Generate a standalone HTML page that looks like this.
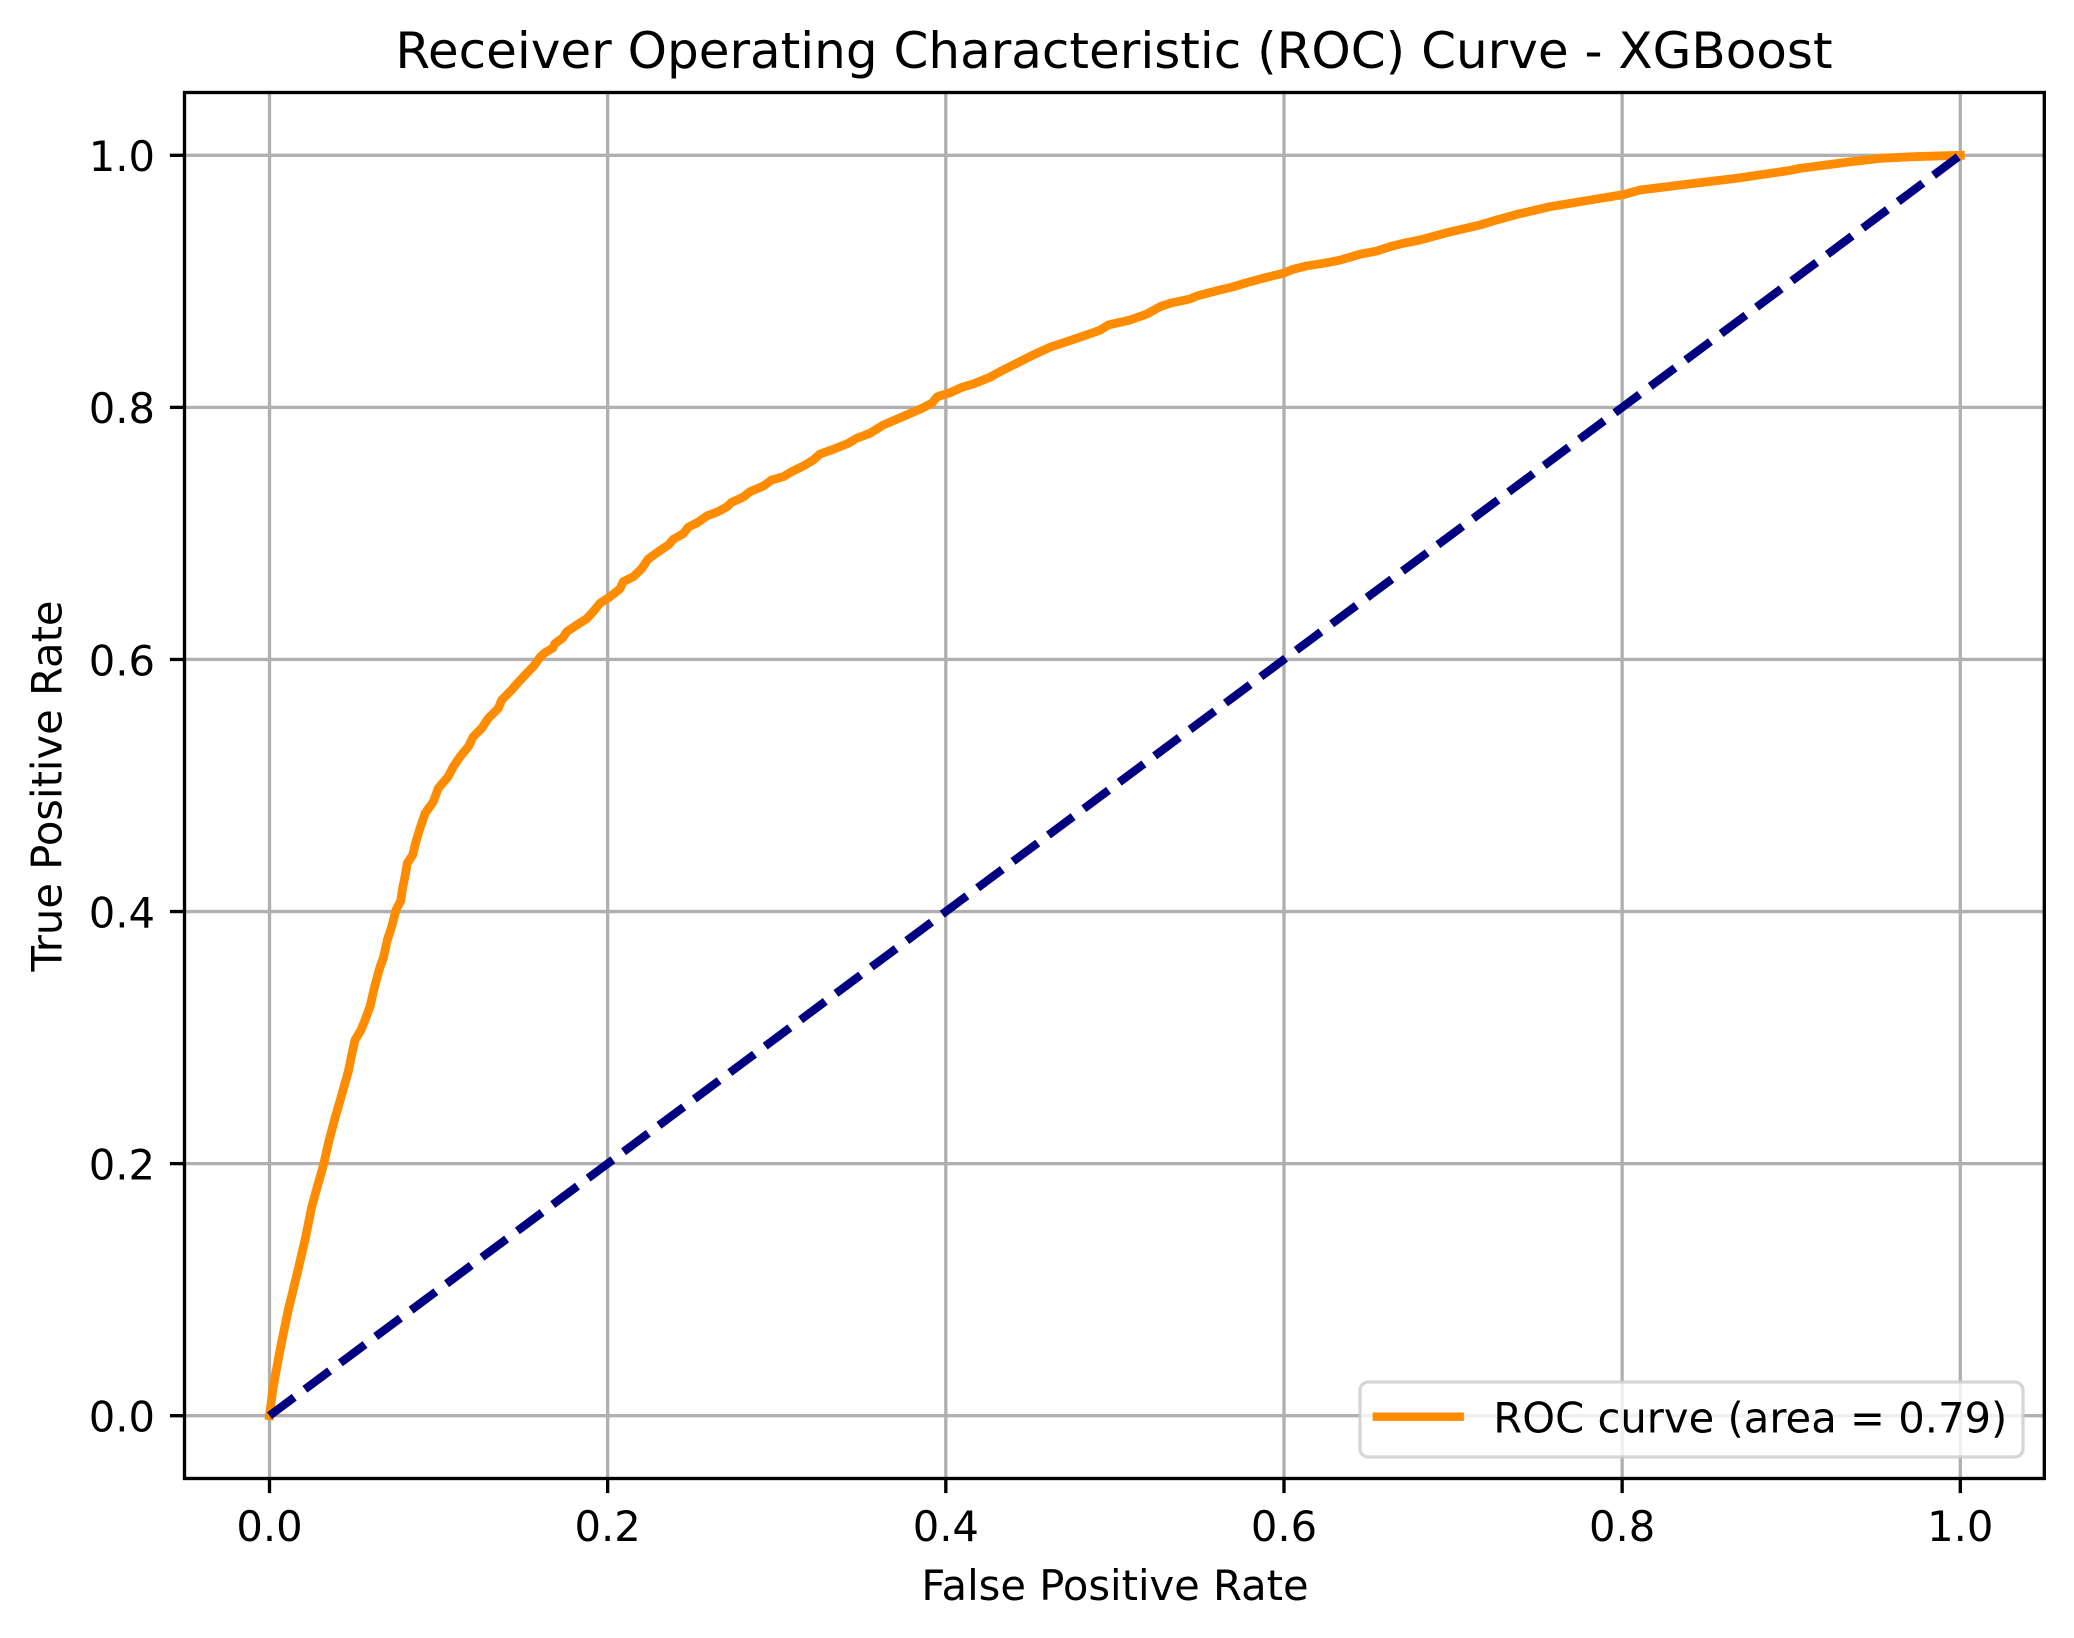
<!DOCTYPE html>
<html lang="en">
<head>
<meta charset="utf-8">
<title>ROC Curve - XGBoost</title>
<style>
html,body{margin:0;padding:0;background:#fff;}
svg{display:block;}
text{font-family:"DejaVu Sans","Liberation Sans",sans-serif;fill:#000;}
</style>
</head>
<body>
<svg id="chart" xmlns="http://www.w3.org/2000/svg" width="2074" height="1638" viewBox="0 0 2074 1638"></svg>
<script>
const xTicks = [0.0, 0.2, 0.4, 0.6, 0.8, 1.0];
const yTicks = [0.0, 0.2, 0.4, 0.6, 0.8, 1.0];
const xTickLabels = ["0.0", "0.2", "0.4", "0.6", "0.8", "1.0"];
const yTickLabels = ["0.0", "0.2", "0.4", "0.6", "0.8", "1.0"];
const diagonalFpr = [0, 1];
const diagonalTpr = [0, 1];
const rocFpr = [0,0.0022,0.0066,0.0111,0.0164,0.0210,0.0250,0.0283,0.0322,0.0348,0.0387,0.0427,0.0466,0.0492,0.0506,0.0541,0.0565,0.0594,0.0624,0.0654,0.0673,0.0697,0.0723,0.0748,0.0776,0.0785,0.0801,0.0815,0.0847,0.0866,0.0890,0.0920,0.0969,0.0998,0.1057,0.1087,0.1127,0.1176,0.1205,0.1255,0.1294,0.1353,0.1373,0.1432,0.1462,0.1521,0.1560,0.1600,0.1629,0.1675,0.1689,0.1734,0.1758,0.1817,0.1876,0.1913,0.1955,0.2014,0.2073,0.2092,0.2152,0.2201,0.2240,0.2300,0.2359,0.2388,0.2447,0.2477,0.2536,0.2586,0.2645,0.2704,0.2734,0.2802,0.2842,0.2921,0.2970,0.3039,0.3088,0.3157,0.3216,0.3256,0.3334,0.3423,0.3473,0.3552,0.3630,0.3699,0.3769,0.3847,0.3916,0.3950,0.4025,0.4094,0.4163,0.4261,0.4320,0.4419,0.4517,0.4616,0.4715,0.4813,0.4912,0.4961,0.5089,0.5188,0.5267,0.5326,0.5444,0.5484,0.5602,0.5700,0.5799,0.5898,0.5996,0.6055,0.6134,0.6233,0.6331,0.6450,0.6548,0.6627,0.6706,0.6804,0.6982,0.7159,0.7258,0.7386,0.7573,0.7810,0.8007,0.8106,0.8382,0.8678,0.8993,0.9032,0.9328,0.9525,0.9722,1];
const rocTpr = [0,0.0230,0.0547,0.0839,0.1130,0.1394,0.1658,0.1817,0.2003,0.2161,0.2360,0.2544,0.2729,0.2901,0.2981,0.3060,0.3139,0.3243,0.3417,0.3562,0.3629,0.3774,0.3880,0.4012,0.4085,0.4171,0.4276,0.4383,0.4450,0.4554,0.4660,0.4779,0.4871,0.4978,0.5070,0.5149,0.5229,0.5308,0.5387,0.5454,0.5533,0.5612,0.5678,0.5758,0.5805,0.5890,0.5943,0.6017,0.6054,0.6090,0.6128,0.6170,0.6220,0.6273,0.6323,0.6377,0.6446,0.6498,0.6560,0.6617,0.6657,0.6720,0.6797,0.6855,0.6908,0.6953,0.6998,0.7049,0.7090,0.7138,0.7168,0.7210,0.7247,0.7288,0.7331,0.7376,0.7424,0.7450,0.7490,0.7535,0.7582,0.7630,0.7667,0.7715,0.7755,0.7795,0.7860,0.7900,0.7940,0.7985,0.8032,0.8085,0.8116,0.8159,0.8186,0.8239,0.8283,0.8350,0.8416,0.8477,0.8521,0.8566,0.8612,0.8654,0.8693,0.8740,0.8799,0.8826,0.8860,0.8884,0.8925,0.8957,0.8997,0.9032,0.9064,0.9096,0.9122,0.9143,0.9168,0.9215,0.9240,0.9275,0.9302,0.9328,0.9392,0.9447,0.9487,0.9534,0.9592,0.9645,0.9688,0.9725,0.9770,0.9818,0.9880,0.9892,0.9945,0.9976,0.9989,1];

const svg = document.getElementById('chart');
const NS = 'http://www.w3.org/2000/svg';
const plotLeft = 184.5, plotRight = 2044.3, plotTop = 92.5, plotBottom = 1478.5;
const xAxis = v => 269.5 + v * 1690.8;
const yAxis = v => 1415.7 - v * 1260.4;

function make(tag, attrs, text) {
  const el = document.createElementNS(NS, tag);
  for (const k in attrs) el.setAttribute(k, attrs[k]);
  if (text !== undefined) el.textContent = text;
  svg.appendChild(el);
  return el;
}

const background = make('rect', {x: 0, y: 0, width: 2074, height: 1638, fill: '#ffffff'});



// Grid lines
xTicks.forEach((t, i) => {
  const g = make('line', {x1: xAxis(t), x2: xAxis(t), y1: plotTop, y2: plotBottom, stroke: '#b0b0b0', 'stroke-width': 3.33});
  
  
});
yTicks.forEach((t, i) => {
  const g = make('line', {x1: plotLeft, x2: plotRight, y1: yAxis(t), y2: yAxis(t), stroke: '#b0b0b0', 'stroke-width': 3.33});
  
  
});

// Series
function pathFrom(xs, ys) {
  return xs.map((v, i) => (i ? 'L' : 'M') + xAxis(v).toFixed(2) + ' ' + yAxis(ys[i]).toFixed(2)).join(' ');
}
const rocLine = make('path', {d: pathFrom(rocFpr, rocTpr), fill: 'none', stroke: '#ff8c00', 'stroke-width': 8.8, 'stroke-linecap': 'square', 'stroke-linejoin': 'round'});


const diagLine = make('path', {d: pathFrom(diagonalFpr, diagonalTpr), fill: 'none', stroke: '#000080', 'stroke-width': 8.33, 'stroke-dasharray': '30.83 13.33', 'stroke-linecap': 'butt'});



// Ticks and labels
xTicks.forEach((t, i) => {
  const m = make('line', {x1: xAxis(t), x2: xAxis(t), y1: plotBottom, y2: plotBottom + 14.6, stroke: '#000', 'stroke-width': 3.33});
  
  
  const l = make('text', {x: xAxis(t), y: 1541, 'text-anchor': 'middle', 'font-size': 41.67}, xTickLabels[i]);
  
  
});
yTicks.forEach((t, i) => {
  const m = make('line', {x1: plotLeft - 14.6, x2: plotLeft, y1: yAxis(t), y2: yAxis(t), stroke: '#000', 'stroke-width': 3.33});
  
  
  const l = make('text', {x: 155, y: yAxis(t) + 15.8, 'text-anchor': 'end', 'font-size': 41.67}, yTickLabels[i]);
  
  
});

// Legend
const legendBox = make('rect', {x: 1360, y: 1382, width: 663, height: 75, rx: 8.3, ry: 8.3, fill: '#ffffff', 'fill-opacity': 0.8, stroke: '#cccccc', 'stroke-opacity': 0.8, 'stroke-width': 3.33});


const legendLine = make('line', {x1: 1372.6, x2: 1463.9, y1: 1416.7, y2: 1416.7, stroke: '#ff8c00', 'stroke-width': 8.33});


const legendText = make('text', {x: 1493.3, y: 1432.7, 'font-size': 41.67, textLength: 514, lengthAdjust: 'spacing'}, 'ROC curve (area = 0.79)');



// Axes frame
const frame = make('rect', {x: plotLeft, y: plotTop, width: plotRight - plotLeft, height: plotBottom - plotTop, fill: 'none', stroke: '#000', 'stroke-width': 3.33});



// Titles
const title = make('text', {x: 1114, y: 68, 'text-anchor': 'middle', 'font-size': 50}, 'Receiver Operating Characteristic (ROC) Curve - XGBoost');


const xTitle = make('text', {x: 1115, y: 1600, 'text-anchor': 'middle', 'font-size': 41.67}, 'False Positive Rate');


const yTitle = make('text', {x: 0, y: 0, 'text-anchor': 'middle', 'font-size': 41.67, transform: 'translate(61.7 786) rotate(-90)'}, 'True Positive Rate');


</script>
</body>
</html>
